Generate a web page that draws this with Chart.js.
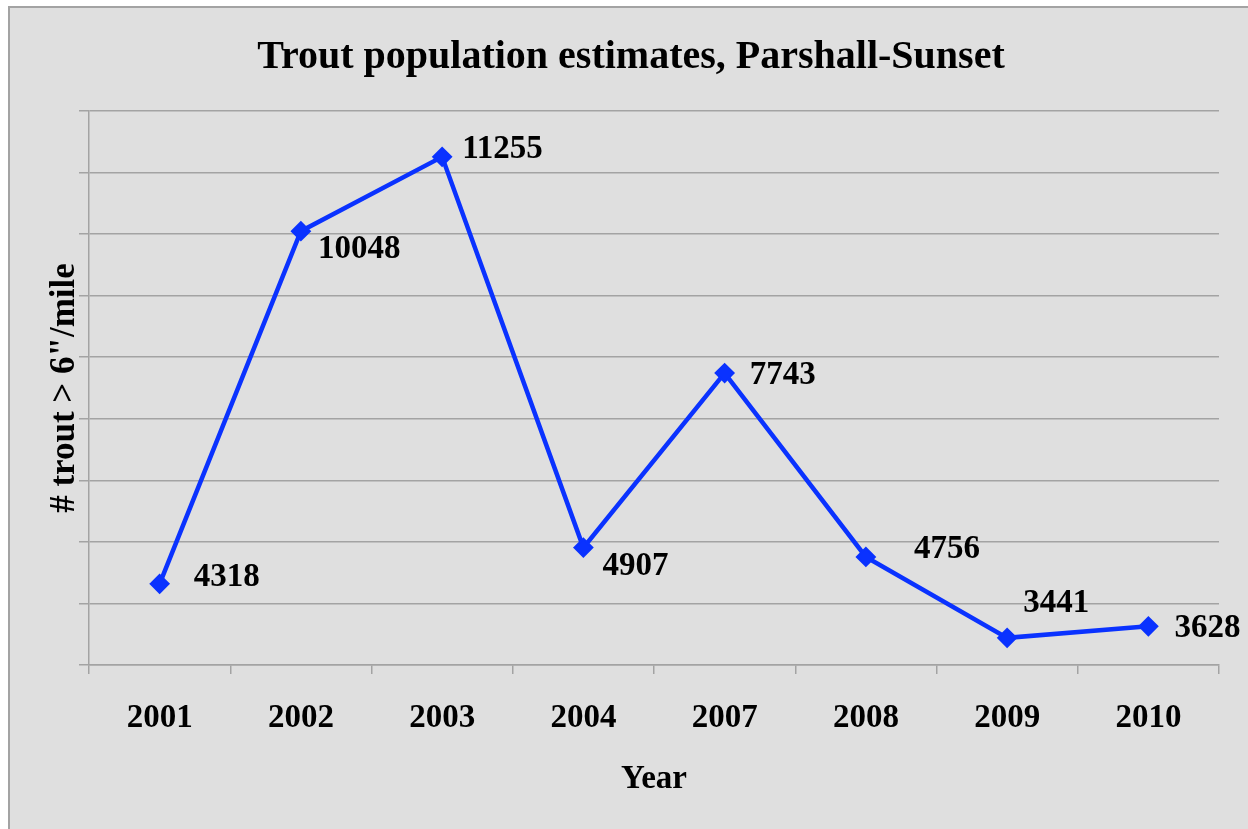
<!DOCTYPE html>
<html>
<head>
<meta charset="utf-8">
<title>Trout population estimates, Parshall-Sunset</title>
<script src="https://cdn.jsdelivr.net/npm/chart.js@4.4.0/dist/chart.umd.min.js"></script>
<style>
    html, body {
        margin: 0;
        padding: 0;
        background: #ffffff;
        overflow: hidden;
    }
    #frame {
        position: absolute;
        left: 8px;
        top: 6px;
        width: 1260px;
        height: 840px;
        background: #dfdfdf;
        border: 2px solid #a3a3a3;
    }
    #wrap {
        position: absolute;
        left: 0;
        top: 0;
        width: 1248px;
        height: 829px;
    }
</style>
</head>
<body>
<div id="frame"></div>
<div id="wrap"><canvas id="troutChart" width="1248" height="829"></canvas></div>

<script>
// Survey years and estimates
var years = ['2001', '2002', '2003', '2004', '2007', '2008', '2009', '2010'];
var troutPerMile = [4318, 10048, 11255, 4907, 7743, 4756, 3441, 3628];

// Where each value label sits relative to its point (pixels)
var labelShiftX = [34, 17, 20, 19, 25, 48, 16, 26];
var labelShiftY = [-6, 18, -7, 19, 2, -7, -34, 2];

var serif = '"Liberation Serif", "Times New Roman", serif';
var lineBlue = '#0a32ff';
var gridGray = '#a3a3a3';

// Draw the value next to each marker
var valueLabels = {
    id: 'valueLabels',
    afterDatasetsDraw: function(chart) {
        var ctx = chart.ctx;
        var meta = chart.getDatasetMeta(0);
        ctx.save();
        ctx.font = 'bold 33px ' + serif;
        ctx.fillStyle = '#000000';
        ctx.textAlign = 'left';
        ctx.textBaseline = 'middle';
        meta.data.forEach(function(pt, i) {
            ctx.fillText(String(troutPerMile[i]), pt.x + labelShiftX[i], pt.y + labelShiftY[i]);
        });
        ctx.restore();
    }
};

new Chart(document.getElementById('troutChart'), {
    type: 'line',
    data: {
        labels: years,
        datasets: [{
            data: troutPerMile,
            borderColor: lineBlue,
            backgroundColor: lineBlue,
            borderWidth: 4.5,
            pointStyle: 'rectRot',
            pointRadius: 9,
            pointBorderWidth: 2,
            pointBackgroundColor: lineBlue,
            pointBorderColor: lineBlue,
            tension: 0,
            fill: false
        }]
    },
    options: {
        responsive: false,
        animation: false,
        devicePixelRatio: 1,
        layout: {
            padding: { left: 43, right: 29, top: 0, bottom: 30 }
        },
        plugins: {
            legend: { display: false },
            tooltip: { enabled: false },
            title: {
                display: true,
                text: 'Trout population estimates, Parshall-Sunset',
                color: '#000000',
                font: { family: serif, size: 40, weight: 'bold', lineHeight: 1.2 },
                padding: { top: 34, bottom: 29 }
            }
        },
        scales: {
            x: {
                type: 'category',
                offset: true,
                afterFit: function(scale) {
                    scale.height = 829 - 30 - 665;
                },
                grid: {
                    offset: true,
                    drawOnChartArea: false,
                    drawTicks: true,
                    tickLength: 9,
                    color: gridGray,
                    lineWidth: 1.5
                },
                border: { display: true, color: gridGray, width: 1.5 },
                ticks: {
                    color: '#000000',
                    padding: 25,
                    font: { family: serif, size: 33, weight: 'bold' }
                },
                title: {
                    display: true,
                    text: 'Year',
                    color: '#000000',
                    align: 'center',
                    font: { family: serif, size: 33, weight: 'bold', lineHeight: 1.2 },
                    padding: { top: 10, bottom: 0 }
                }
            },
            y: {
                min: 3000,
                max: 12000,
                afterFit: function(scale) {
                    scale.width = 89 - 43;
                },
                ticks: {
                    stepSize: 1000,
                    display: false
                },
                grid: {
                    drawTicks: true,
                    tickLength: 10,
                    color: gridGray,
                    lineWidth: 1.5
                },
                border: { display: true, color: gridGray, width: 1.5 },
                title: {
                    display: true,
                    text: '# trout > 6"/mile',
                    color: '#000000',
                    font: { family: serif, size: 35, weight: 'bold', lineHeight: 1.2 },
                    padding: { top: 1, bottom: 0 }
                }
            }
        }
    },
    plugins: [valueLabels]
});
</script>
</body>
</html>
